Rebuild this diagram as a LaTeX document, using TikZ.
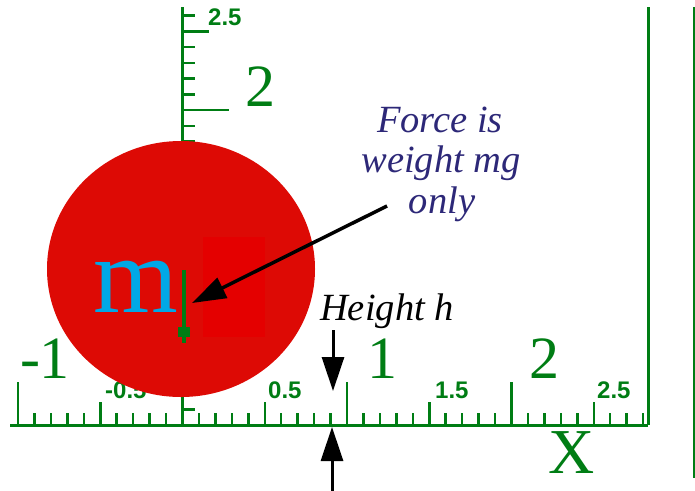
\documentclass[tikz,border=0pt]{standalone}
\usepackage{fontspec}
\setmainfont{Liberation Serif}
\newfontfamily\lblfont{Liberation Sans}
\usetikzlibrary{arrows.meta,shapes.geometric}
\definecolor{axgreen}{RGB}{0,125,20}
\definecolor{ballred}{RGB}{221,10,5}
\definecolor{innerred}{RGB}{228,0,0}
\definecolor{masscyan}{RGB}{0,168,230}
\definecolor{notenavy}{RGB}{45,40,120}
\begin{document}
\begin{tikzpicture}[x=1pt,y=-1pt,
  axisline/.style={axgreen,line width=3pt},
  tickline/.style={axgreen,line width=2.5pt},
  biglbl/.style={axgreen,inner sep=0,anchor=base,font=\fontsize{60}{60}\selectfont},
  smalllbl/.style={axgreen,inner sep=0,anchor=base west,font=\lblfont\bfseries\fontsize{24}{24}\selectfont},
  note/.style={inner sep=0,anchor=base,font=\itshape\fontsize{38.5}{41}\selectfont},
  bigarrow/.style={black,line width=3.5pt,-{Triangle[length=34pt,width=22pt]}}]
\useasboundingbox (0,0) rectangle (695,490);
% frame lines
\draw[axgreen,line width=3pt] (648,7) -- (648,425);
\draw[axgreen,line width=1.5pt] (694,7) -- (694,478);
% x axis
\draw[axisline] (10,425) -- (648,425);
\foreach \i in {-10,10,20} \draw[tickline] ({182.5+\i*16.45},425) -- ++(0,-43);
\foreach \i in {-5,5,15,25} \draw[tickline] ({182.5+\i*16.45},425) -- ++(0,-23);
\foreach \i in {-9,-8,-7,-6,-4,-3,-2,-1,1,2,3,4,6,7,8,9,11,12,13,14,16,17,18,19,21,22,23,24,26,27,28}
  \draw[tickline] ({182.5+\i*16.45},425) -- ++(0,-12);
% y axis
\draw[axgreen,line width=3.5pt] (182.5,425) -- (182.5,7);
\foreach \j in {10,20} \draw[tickline] (182.5,{425-\j*15.75}) -- ++(46,0);
\foreach \j in {5,15,25} \draw[tickline] (182.5,{425-\j*15.75}) -- ++(26,0);
\foreach \j in {1,2,3,4,6,7,8,9,11,12,13,14,16,17,18,19,21,22,23,24,26}
  \draw[tickline] (182.5,{425-\j*15.75}) -- ++(12,0);
% axis labels
\node[biglbl] (xm1) at (45,378) {-1};
\node[biglbl] (x1) at (382,378) {1};
\node[biglbl] (x2) at (544,378) {2};
\node[biglbl] (y2) at (260,106) {2};
\node[biglbl,font=\fontsize{64}{64}\selectfont] (xname) at (572,473) {X};
\node[smalllbl] (xm05) at (105,398) {-0.5};
\node[smalllbl] (x05) at (268,398) {0.5};
\node[smalllbl] (x15) at (435,398) {1.5};
\node[smalllbl] (x25) at (597,398) {2.5};
\node[smalllbl] (y25) at (208,25) {2.5};
% ball
\node[ellipse,fill=ballred,draw=none,inner sep=0,minimum width=268pt,minimum height=256pt] (ball) at (181,269) {};
\fill[innerred] (203,237) rectangle (265,337);
\node[masscyan,inner sep=0,anchor=base,font=\fontsize{109}{109}\selectfont] (mass) at (135.5,312) {m};
% weight arrow
\coordinate (gtop) at (184,270);
\coordinate (gbot) at (184,343);
\draw[axgreen,line width=4pt] (gtop) -- (gbot);
\fill[axgreen] (178,327) rectangle (190,337);
% note
\node[note,notenavy] (n1) at (440,132) {Force is};
\node[note,notenavy] (n2) at (441,172) {weight mg};
\node[note,notenavy] (n3) at (442,213) {only};
\coordinate (fstart) at (387,206);
\coordinate (ftip) at (192,303);
\draw[bigarrow] (fstart) -- (ftip);
% height
\node[note,black] (hgt) at (387,320) {Height h};
\coordinate (h1s) at (333,330);
\coordinate (h1e) at (333,391);
\coordinate (h2s) at (332,492);
\coordinate (h2e) at (332,427);
\draw[bigarrow,line width=3pt] (h1s) -- (h1e);
\draw[bigarrow,line width=3pt] (h2s) -- (h2e);
\end{tikzpicture}
\end{document}
